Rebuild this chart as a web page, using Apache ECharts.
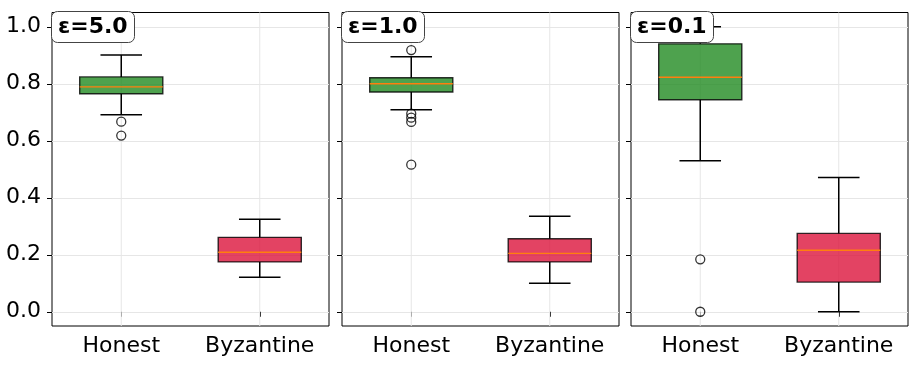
<!DOCTYPE html>
<html>
<head>
<meta charset="utf-8">
<script src="https://cdn.jsdelivr.net/npm/echarts@6/dist/echarts.min.js"></script>
<style>
  html, body { margin: 0; padding: 0; background: #fff; }
  #chart { width: 918px; height: 384px; }
</style>
</head>
<body>
<div id="chart"></div>
<script>
const categories = ["Honest", "Byzantine"];
const panelLabels = ["ε=5.0", "ε=1.0", "ε=0.1"];
const yTicks = [0, 0.2, 0.4, 0.6, 0.8, 1.0];

// [min whisker, Q1, median, Q3, max whisker]
const honestStats = [
    [0.691, 0.765, 0.789, 0.824, 0.901],
    [0.709, 0.771, 0.800, 0.821, 0.895],
    [0.530, 0.744, 0.823, 0.940, 1.000]
];
const byzantineStats = [
    [0.121, 0.175, 0.209, 0.261, 0.325],
    [0.100, 0.175, 0.205, 0.256, 0.335],
    [0.000, 0.104, 0.216, 0.275, 0.471]
];
const honestOutliers = [
    [0.667, 0.618],
    [0.918, 0.695, 0.681, 0.666, 0.516],
    [0.184, 0.000]
];
const byzantineOutliers = [[], [], []];

const boxColors = ["rgba(34,139,34,0.8)", "rgba(220,20,60,0.8)"];
const font = "DejaVu Sans";
const gridLefts = [52, 342, 631];

function renderBox(params, api) {
    const idx = api.value(0);
    const lo = api.value(1), q1 = api.value(2), med = api.value(3), q3 = api.value(4), hi = api.value(5);
    const band = api.size([1, 0])[0];
    const bw = band * 0.6;
    const cx = api.coord([idx, med])[0];
    const y = v => api.coord([idx, v])[1];
    const cs = params.coordSys;
    const line = (x1, y1, x2, y2, color, w) => ({
        type: "line",
        shape: { x1, y1, x2, y2 },
        style: { stroke: color || "#000", lineWidth: w || 1.5 }
    });
    return {
        type: "group",
        children: [
            // vertical grid line at the category centre, behind the box
            line(cx, cs.y, cx, cs.y + cs.height, "#e6e6e6", 1),
            line(cx, y(lo), cx, y(q1)),
            line(cx, y(q3), cx, y(hi)),
            line(cx - bw / 4, y(lo), cx + bw / 4, y(lo)),
            line(cx - bw / 4, y(hi), cx + bw / 4, y(hi)),
            {
                type: "rect",
                shape: { x: cx - bw / 2, y: y(q3), width: bw, height: y(q1) - y(q3) },
                style: { fill: boxColors[idx], stroke: "rgba(0,0,0,0.8)", lineWidth: 1.4 }
            },
            line(cx - bw / 2, y(med), cx + bw / 2, y(med), "#ff7f0e", 1.4)
        ]
    };
}

const grids = [], xAxes = [], yAxes = [], series = [], titles = [];
for (let p = 0; p < 3; p++) {
    grids.push({
        left: gridLefts[p], top: 12.5, width: 277, height: 313.5,
        show: true, borderColor: "#000", borderWidth: 1, backgroundColor: "transparent"
    });
    xAxes.push({
        type: "category", gridIndex: p, data: categories,
        axisLine: { show: false },
        axisTick: { show: true, alignWithLabel: true, length: 5, lineStyle: { color: "#000" } },
        axisLabel: { interval: 0, fontFamily: font, fontSize: 22, color: "#000", margin: 9 },
        splitLine: { show: false }
    });
    yAxes.push({
        type: "value", gridIndex: p, min: -0.05, max: 1.05,
        axisLine: { show: false },
        axisTick: { show: true, customValues: yTicks, length: 5, lineStyle: { color: "#000" } },
        axisLabel: {
            show: p === 0, customValues: yTicks, fontFamily: font, fontSize: 22, color: "#000", margin: 11,
            formatter: v => Number(v).toFixed(1)
        },
        splitLine: { show: true, lineStyle: { color: "#e6e6e6", width: 1 } }
    });
    series.push({
        type: "custom", xAxisIndex: p, yAxisIndex: p, z: 3,
        renderItem: renderBox,
        encode: { x: 0, y: [1, 2, 3, 4, 5] },
        data: [[0].concat(honestStats[p]), [1].concat(byzantineStats[p])]
    });
    const pts = honestOutliers[p].map(v => ["Honest", v])
        .concat(byzantineOutliers[p].map(v => ["Byzantine", v]));
    series.push({
        type: "scatter", xAxisIndex: p, yAxisIndex: p, z: 4,
        symbol: "circle", symbolSize: 9,
        itemStyle: { color: "rgba(255,255,255,0)", borderColor: "#000", borderWidth: 1.3 },
        data: pts
    });
    titles.push({
        text: panelLabels[p], left: gridLefts[p] - 1, top: 11,
        padding: [5, 7, 5, 7],
        backgroundColor: "#fff", borderColor: "#444", borderWidth: 1, borderRadius: 6,
        textStyle: { fontFamily: font, fontWeight: "bold", fontSize: 22, color: "#000" }
    });
}

const chart = echarts.init(document.getElementById("chart"));
chart.setOption({
    animation: false,
    backgroundColor: "#fff",
    title: titles,
    grid: grids,
    xAxis: xAxes,
    yAxis: yAxes,
    series: series
});
</script>
</body>
</html>
